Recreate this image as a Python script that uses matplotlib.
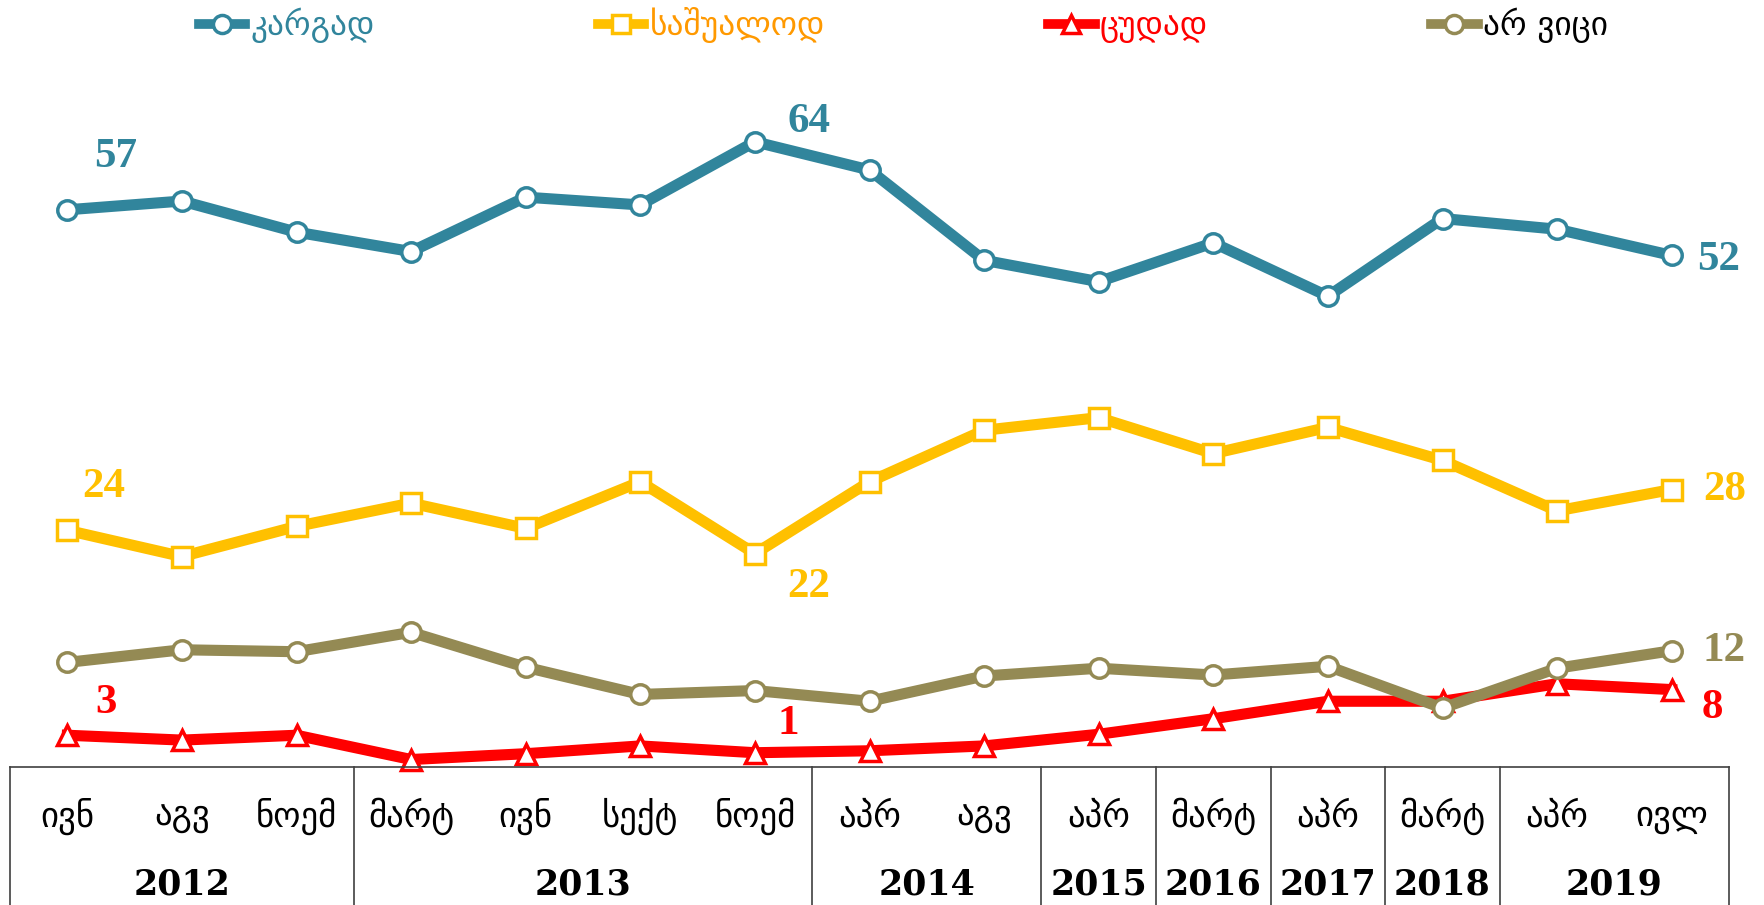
import matplotlib.pyplot as plt
from matplotlib.lines import Line2D

# survey waves
months = ["ივნ", "აგვ", "ნოემ", "მარტ", "ივნ", "სექტ", "ნოემ", "აპრ", "აგვ",
          "აპრ", "მარტ", "აპრ", "მარტ", "აპრ", "ივლ"]
years = ["2012", "2013", "2014", "2015", "2016", "2017", "2018", "2019"]
year_counts = [3, 4, 2, 1, 1, 1, 1, 2]

good = [57.0, 57.9, 54.7, 52.7, 58.3, 57.5, 64.0, 61.1, 51.8, 49.6, 53.6, 48.1, 56.1, 55.0, 52.3]
average = [24.0, 21.3, 24.4, 26.8, 24.2, 29.0, 21.6, 29.0, 34.3, 35.6, 31.9, 34.6, 31.2, 26.0, 28.2]
bad = [2.9, 2.4, 2.9, 0.4, 1.0, 1.8, 1.1, 1.3, 1.8, 3.0, 4.6, 6.4, 6.4, 8.2, 7.6]
dont_know = [10.4, 11.7, 11.5, 13.5, 9.9, 7.1, 7.5, 6.4, 9.0, 9.8, 9.1, 10.0, 5.7, 9.8, 11.6]

names = ["კარგად", "საშუალოდ", "ცუდად", "არ ვიცი"]
colors = ["#31859C", "#FFC000", "#FF0000", "#948A54"]
text_colors = ["#31859C", "#FF9900", "#FF0000", "black"]
markers = ["o", "s", "^", "o"]
msizes = [14, 15, 14, 14]

x = list(range(len(months)))

fig = plt.figure(figsize=(17.64, 9.05), dpi=100)
tab_h = 138 / 905
ax = fig.add_axes([10 / 1764, tab_h, 1719 / 1764, 1 - tab_h])
tab = fig.add_axes([10 / 1764, 0, 1719 / 1764, tab_h])

series = [good, average, bad, dont_know]
order = [1, 0, 3, 2]
for i in order:
    ax.plot(x, series[i], color=colors[i], lw=8, marker=markers[i], ms=msizes[i],
            mfc="white", mec=colors[i], mew=2.5, clip_on=False, zorder=3 + i)

ax.set_xlim(-0.5, 14.5)
ax.set_ylim(-0.37, 78.6)
ax.axis("off")

lab_font = dict(family="Liberation Serif", weight="bold", fontsize=31)
# (series, index, offset in points)
labels = [
    (0, 0, (35, 38)), (0, 6, (39, 14)), (0, 14, (34, -3)),
    (1, 0, (26, 31)), (1, 6, (39, -24)), (1, 14, (38, 0)),
    (2, 0, (28, 23)), (2, 6, (24, 21)), (2, 14, (29, -13)),
    (3, 14, (38, 0)),
]
for s, i, off in labels:
    ax.annotate(f"{round(series[s][i])}", (x[i], series[s][i]), xytext=off,
                textcoords="offset points", ha="center", va="center",
                color=colors[s], zorder=10, **lab_font)

# table below
tab.set_xlim(-0.5, 14.5)
tab.set_ylim(0, 1)
tab.axis("off")
line_kw = dict(color="#404040", lw=1.2, clip_on=False)
tab.plot([-0.5, 14.5], [1, 1], **line_kw)
bounds = [-0.5]
for c in year_counts:
    bounds.append(bounds[-1] + c)
for b in bounds:
    tab.plot([b, b], [0, 1], **line_kw)
for i, m in enumerate(months):
    tab.text(i, 0.64, m, ha="center", va="center", fontsize=25,
             family="DejaVu Sans")
for j, yr in enumerate(years):
    mid = (bounds[j] + bounds[j + 1]) / 2
    tab.text(mid, 0.145, yr, ha="center", va="center", fontsize=25,
             family="DejaVu Serif", weight="bold")

handles = [Line2D([], [], color=colors[i], lw=7, marker=markers[i], ms=13,
                  mfc="white", mec=colors[i], mew=2.5) for i in range(4)]
fig.legend(handles, names, loc="center", bbox_to_anchor=(0.512, 0.972), ncol=4,
           frameon=False, fontsize=24, handlelength=1.4, handletextpad=0.15,
           columnspacing=6.7, labelcolor=text_colors)

fig.savefig("out.png", dpi=100)
